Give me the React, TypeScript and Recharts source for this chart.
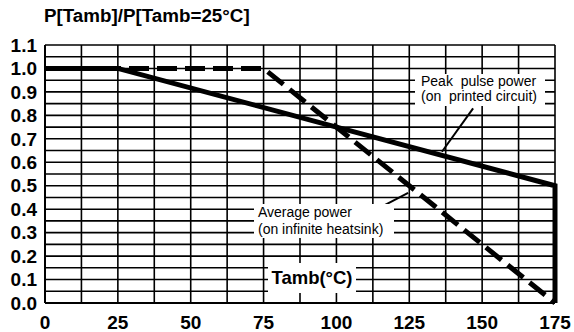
import { LineChart, Line, XAxis, YAxis, ReferenceLine } from "recharts";

// axis ticks
const tempTicks = [0, 25, 50, 75, 100, 125, 150, 175];
const ratioTicks = [0, 0.1, 0.2, 0.3, 0.4, 0.5, 0.6, 0.7, 0.8, 0.9, 1.0, 1.1];

// grid every 12.5 degC and every 0.05
const gridTemps = [12.5, 25, 37.5, 50, 62.5, 75, 87.5, 100, 112.5, 125, 137.5, 150, 162.5, 175];
const gridRatios = [
  0.05, 0.1, 0.15, 0.2, 0.25, 0.3, 0.35, 0.4, 0.45, 0.5, 0.55,
  0.6, 0.65, 0.7, 0.75, 0.8, 0.85, 0.9, 0.95, 1.0, 1.05, 1.1,
];

// peak pulse power (on printed circuit)
const peakTemp = [0, 25, 175, 175];
const peakRatio = [1, 1, 0.5, 0];

// average power (on infinite heatsink)
const avgTemp = [0, 75, 175];
const avgRatio = [1, 1, 0];

const peakData = peakTemp.map((t, i) => ({ t, v: peakRatio[i] }));
const avgData = avgTemp.map((t, i) => ({ t, v: avgRatio[i] }));

const FONT = "'Liberation Sans', Arial, sans-serif";

const tickStyle = { fill: "#000", fontSize: 19, fontWeight: "bold", fontFamily: FONT };

const note: React.CSSProperties = {
  position: "absolute",
  background: "#fff",
  fontFamily: FONT,
  fontSize: 14,
  lineHeight: "15px",
  color: "#000",
  whiteSpace: "pre",
};

export default function App() {
  return (
    <div style={{ position: "absolute", left: 0, top: 0, width: 574, height: 332, background: "#fff" }}>
      <div
        style={{
          position: "absolute",
          left: 44,
          top: 5,
          fontFamily: FONT,
          fontWeight: "bold",
          fontSize: 18.8,
          whiteSpace: "pre",
        }}
      >
        P[T<span>amb</span>]/P[T<span>amb</span>=25°C]
      </div>
      <LineChart
        width={574}
        height={332}
        margin={{ top: 45, right: 19, bottom: 0, left: 0 }}
        style={{ position: "absolute", left: 0, top: 0 }}
      >
        <XAxis
          dataKey="t"
          type="number"
          domain={[0, 175]}
          ticks={tempTicks}
          interval={0}
          height={29}
          tickLine={false}
          tickSize={0}
          tickMargin={13}
          axisLine={{ stroke: "#000", strokeWidth: 2 }}
          tick={tickStyle}
          allowDuplicatedCategory
        />
        <YAxis
          type="number"
          domain={[0, 1.1]}
          ticks={ratioTicks}
          interval={0}
          width={45}
          tickLine={false}
          tickSize={0}
          tickMargin={8}
          axisLine={{ stroke: "#000", strokeWidth: 2 }}
          tick={tickStyle}
          tickFormatter={(v: number) => v.toFixed(1)}
        />
        {gridTemps.map((t) => (
          <ReferenceLine key={"x" + t} x={t} stroke="#000" strokeWidth={1.6} />
        ))}
        {gridRatios.map((r) => (
          <ReferenceLine key={"y" + r} y={r} stroke="#000" strokeWidth={1.6} />
        ))}
        <ReferenceLine
          segment={[
            { x: 146.9, y: 0.83 },
            { x: 136.2, y: 0.645 },
          ]}
          stroke="#000"
          strokeWidth={2}
        />
        <ReferenceLine
          segment={[
            { x: 108.5, y: 0.365 },
            { x: 124.6, y: 0.47 },
          ]}
          stroke="#000"
          strokeWidth={2}
        />
        <Line
          data={avgData}
          dataKey="v"
          stroke="#000"
          strokeWidth={5}
          strokeDasharray="20 8"
          dot={false}
          isAnimationActive={false}
        />
        <Line
          data={peakData}
          dataKey="v"
          stroke="#000"
          strokeWidth={5}
          strokeLinejoin="miter"
          dot={false}
          isAnimationActive={false}
        />
      </LineChart>
      <div style={{ ...note, left: 415, top: 74, width: 130, height: 32, paddingLeft: 6, boxSizing: "border-box" }}>
        {"Peak  pulse power\n(on  printed circuit)"}
      </div>
      <div style={{ ...note, left: 254, top: 204, width: 140, height: 34, paddingLeft: 4, boxSizing: "border-box", lineHeight: "17px" }}>
        {"Average power\n(on infinite heatsink)"}
      </div>
      <div
        style={{
          ...note,
          left: 268,
          top: 263,
          width: 88,
          height: 30,
          fontSize: 18.5,
          fontWeight: "bold",
          lineHeight: "30px",
          textAlign: "center",
        }}
      >
        Tamb(°C)
      </div>
    </div>
  );
}
